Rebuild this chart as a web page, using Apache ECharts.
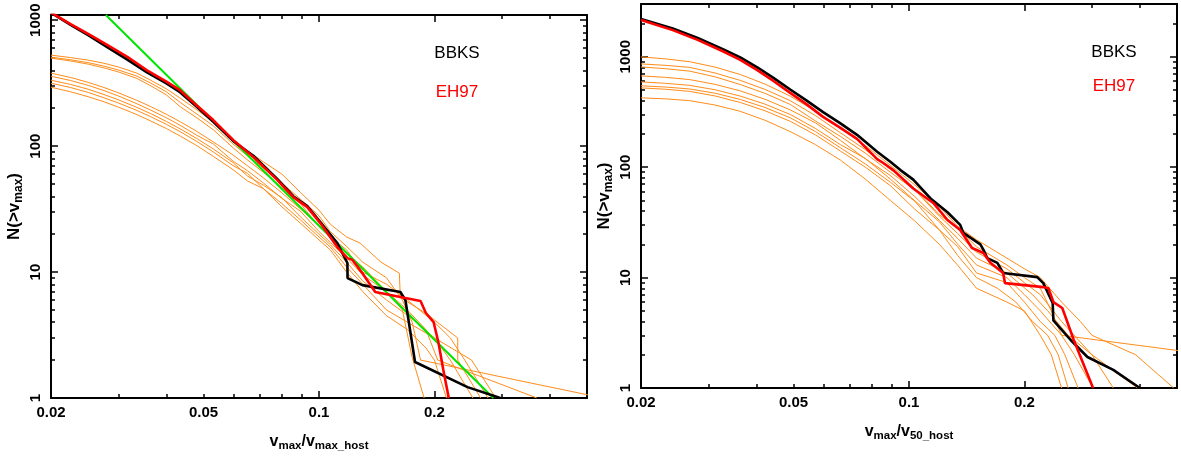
<!DOCTYPE html>
<html><head><meta charset="utf-8">
<script src="https://cdn.jsdelivr.net/npm/echarts@6/dist/echarts.min.js"></script>
<style>html,body{margin:0;padding:0;background:#fff;}#c{width:1181px;height:458px;}</style>
</head><body><div id="c"></div>
<script>
// ---------------- data ----------------
const xRange = [0.02, 0.5];
const yRangeLeft = [1, 1100];
const yRangeRight = [1, 3000];
const xLabelValues = [0.02, 0.05, 0.1, 0.2];
const xLabelTexts = ['0.02', '0.05', '0.1', '0.2'];
const xMajorTicks = [0.02, 0.1, 0.2];
const xMinorTicks = [0.03, 0.04, 0.05, 0.06, 0.07, 0.08, 0.09, 0.3, 0.4];
const yLabelValues = [1, 10, 100, 1000];
const yLabelTexts = ['1', '10', '100', '1000'];
const yMajorTicks = [1, 10, 100, 1000];
const yMinorTicks = [2,3,4,5,6,7,8,9,20,30,40,50,60,70,80,90,200,300,400,500,600,700,800,900,2000,3000];

// ----- left panel (v_max / v_max_host) -----
const leftBbksV = [0.02,0.0225,0.025,0.0283,0.0317,0.0356,0.04,0.0434,0.048,0.053,0.0597,0.0674,0.0778,0.0857,0.0932,0.1008,0.1116,0.1186,0.1187,0.1298,0.163,0.168,0.178,0.244,0.297];
const leftBbksN = [1150,920,760,600,485,385,315,268,205,156,110,84,55,40,33.5,25,17,11.8,8.96,7.88,6.94,6.0,1.93,1.22,1];
const leftEh97V = [0.02,0.0225,0.025,0.0283,0.0317,0.0356,0.04,0.0434,0.048,0.053,0.0597,0.0674,0.0778,0.0857,0.0932,0.1008,0.1116,0.1136,0.1186,0.1222,0.1298,0.1402,0.168,0.184,0.190,0.199,0.205,0.211,0.218];
const leftEh97N = [1150,930,780,625,510,400,325,278,210,161,112,82,54,39.4,32.8,24.5,15.8,14.9,12.9,12.5,9.8,6.94,6.22,5.89,4.73,4.01,2.73,1.67,1];
const leftFitV = [0.0278, 0.285];
const leftFitN = [1100, 1.0];
// orange curves: shared head abscissae, then individual tails
const leftOrangeHeadV = [0.02,0.0225,0.025,0.0275,0.03,0.0335,0.0363,0.04,0.0435,0.048,0.053,0.0597,0.065,0.0716,0.08,0.0894,0.1,0.107];
const leftOrangeHeadN = [
  [528,505,482,455,425,380,335,285,240,195,155,112,92,75,60,43,31,24],
  [509,485,460,432,402,360,318,270,222,180,145,104,84,67,51,38,28,21],
  [500,475,448,418,388,345,303,255,205,168,135,97,78,62,47,35,23,19],
  [380,351,321,292,265,231,207,179,156,131,108,85,70,56,42.6,31.8,23.3,19.1],
  [359,332,304,276,250,217,194,168,146,122,104,76,64,51,38.5,30.5,21,17.2],
  [334,309,283,257,233,203,182,157,137,115,95,74,58,49,39,27.5,20,16.5],
  [316,292,267,242,220,192,172,149,130,109,90,70,61,46,35,26,19,15.8],
  [294,270,247,225,204,178,159,138,120,101,83,65,53,46,33,24.5,18,15]
];
const leftOrangeTailV = [
  [0.118,0.128,0.145,0.162,0.163,0.19,0.23,0.2301,0.264],
  [0.118,0.13,0.15,0.165,0.175,0.184,0.55],
  [0.118,0.13,0.15,0.17,0.19,0.204,0.37],
  [0.118,0.13,0.15,0.17,0.2,0.22,0.24,0.276],
  [0.118,0.13,0.15,0.165,0.175,0.188],
  [0.118,0.13,0.15,0.18,0.2,0.22,0.252],
  [0.118,0.13,0.15,0.17,0.2,0.25,0.289],
  [0.118,0.13,0.15,0.17,0.19,0.2,0.215]
];
const leftOrangeTailN = [
  [19,17,12,9.8,6.3,4.7,3,2,1],
  [16,12,9,6,4,2,1],
  [14,11,7,5,3.5,2,1],
  [15,10,8,6,4,3,2,1],
  [13,9.5,7,5,2.1,1],
  [12,8.5,6,4,3,2,1],
  [11,8,5,4,3,2,1],
  [10,7,4.5,3.5,2.5,2,1]
];

// ----- right panel (v_max / v_50_host) -----
const rightBbksV = [0.02,0.0242,0.0281,0.0327,0.0363,0.0402,0.0444,0.049,0.0541,0.0597,0.0661,0.0732,0.0826,0.0894,0.095,0.1026,0.1138,0.126,0.136,0.1386,0.1535,0.1564,0.160,0.170,0.176,0.216,0.224,0.237,0.238,0.264,0.292,0.341,0.40];
const rightBbksN = [2200,1800,1480,1170,985,800,640,505,400,315,250,196,138,112,94,77,52,39,30,25.4,20,17.8,15,13.6,11,10.1,8.9,5.9,4.1,2.72,1.91,1.46,1];
const rightEh97V = [0.02,0.0242,0.0281,0.0327,0.0363,0.0402,0.0444,0.049,0.0541,0.0597,0.0661,0.0732,0.0826,0.0857,0.091,0.1026,0.1157,0.126,0.136,0.146,0.1564,0.163,0.176,0.178,0.224,0.231,0.238,0.251,0.256,0.269,0.302];
const rightEh97N = [2150,1740,1420,1120,935,755,600,470,370,285,228,180,118,109,94,64,47.4,33.2,27,18.5,16.7,13.6,11,8.9,8.2,8.0,6.0,5.3,4.4,2.72,1];
const rightOrangeHeadV = [0.02,0.0232,0.0268,0.0312,0.0363,0.0421,0.049,0.057,0.0662,0.0769,0.0894,0.1036,0.12,0.134,0.15];
const rightOrangeHeadN = [
  [996,955,900,805,690,565,440,322,225,157,104,69,44,29,22],
  [860,835,800,712,610,506,400,293,205,144,96,63.5,37,28,19],
  [808,778,740,657,560,466,370,262,190,134,90,62,36,25,17],
  [670,650,620,562,490,412,330,252,175,119,84,54,33,22.6,15],
  [591,574,550,502,440,372,300,224,160,120,78,49.5,32,20,13],
  [545,531,510,467,410,347,280,210,150,107,73,49,27,19,11],
  [522,507,485,441,385,324,260,196,140,100,68,41.5,27,15.8,10],
  [424,415,400,365,320,266,210,160,116,78,50,32.5,20,12.9,8]
];
const rightOrangeTailV = [
  [0.18,0.2,0.22,0.25,0.28,0.3,0.39,0.49],
  [0.18,0.2,0.22,0.235,0.25,0.61],
  [0.18,0.2,0.22,0.25,0.3,0.394],
  [0.18,0.21,0.23,0.26,0.3,0.341],
  [0.18,0.2,0.22,0.25,0.27,0.302],
  [0.18,0.2,0.22,0.24,0.255,0.276],
  [0.17,0.19,0.21,0.23,0.245,0.26],
  [0.18,0.2,0.22,0.235,0.25]
];
const rightOrangeTailN = [
  [15,12,10,6,4,3,2,1],
  [13,10,8,5,3,2],
  [12,9,7,4,2,1],
  [11,7,5,3,2,1],
  [10,7,5,3,2,1],
  [9,6,4,3,2,1],
  [8,6,4,3,2,1],
  [6,5,3,2,1]
];

// ---------------- chart ----------------
const L10 = Math.log10;
const FONT = '"Liberation Sans", Helvetica, Arial, sans-serif';
const ORANGE = '#ff8c1a';
function pts(vs, ns) { return vs.map((v, i) => [L10(v), L10(ns[i])]); }
function labelFor(val, values, texts) {
  for (let i = 0; i < values.length; i++) if (Math.abs(L10(values[i]) - val) < 1e-6) return texts[i];
  return '';
}
const tickLine = { color: '#000', width: 1.5 };
const axLine = { show: true, onZero: false, lineStyle: { color: '#000', width: 2 } };
function richStyle(big, small) {
  return { color: '#000', fontFamily: FONT, fontWeight: 'bold',
    rich: { a: { fontSize: big, fontWeight: 'bold', fontFamily: FONT, color: '#000', lineHeight: big + 2, verticalAlign: 'top' },
            b: { fontSize: small, fontWeight: 'bold', fontFamily: FONT, color: '#000', lineHeight: small + 1, verticalAlign: 'bottom' } } };
}

function buildX(g, name) {
  const base = { gridIndex: g, type: 'value', min: L10(xRange[0]), max: L10(xRange[1]),
    splitLine: { show: false }, axisPointer: { show: false } };
  const minorT = { show: true, inside: true, length: 4, customValues: xMinorTicks.map(L10), lineStyle: tickLine };
  const majorT = { show: true, inside: true, length: 7, customValues: xMajorTicks.map(L10), lineStyle: tickLine };
  return [
    Object.assign({}, base, { position: 'bottom', axisLine: axLine, axisTick: majorT,
      axisLabel: { show: true, customValues: xLabelValues.map(L10), formatter: v => labelFor(v, xLabelValues, xLabelTexts),
        fontSize: 15, fontWeight: 'bold', color: '#000', fontFamily: FONT, margin: 7 },
      name: name, nameLocation: 'middle', nameGap: 36, nameTextStyle: richStyle(16, 11.5) }),
    Object.assign({}, base, { position: 'bottom', axisLine: { show: false, onZero: false }, axisTick: minorT, axisLabel: { show: false } }),
    Object.assign({}, base, { position: 'top', axisLine: axLine, axisTick: majorT, axisLabel: { show: false } }),
    Object.assign({}, base, { position: 'top', axisLine: { show: false, onZero: false }, axisTick: minorT, axisLabel: { show: false } })
  ];
}
function buildY(g, yr) {
  const base = { gridIndex: g, type: 'value', min: L10(yr[0]), max: L10(yr[1]),
    splitLine: { show: false }, axisPointer: { show: false } };
  const minors = yMinorTicks.filter(t => t <= yr[1]).map(L10);
  const majors = yMajorTicks.filter(t => t <= yr[1]).map(L10);
  const minorT = { show: true, inside: true, length: 4, customValues: minors, lineStyle: tickLine };
  const majorT = { show: true, inside: true, length: 7, customValues: majors, lineStyle: tickLine };
  return [
    Object.assign({}, base, { position: 'left', axisLine: axLine, axisTick: majorT,
      axisLabel: { show: true, customValues: yLabelValues.filter(t => t <= yr[1]).map(L10), formatter: v => labelFor(v, yLabelValues, yLabelTexts),
        rotate: 90, fontSize: 15, fontWeight: 'bold', color: '#000', fontFamily: FONT, margin: 8 },
      name: '{a|N(>v}{b|max}{a|)}', nameLocation: 'middle', nameGap: 26, nameRotate: 90, nameTextStyle: richStyle(17, 12) }),
    Object.assign({}, base, { position: 'left', axisLine: { show: false, onZero: false }, axisTick: minorT, axisLabel: { show: false } }),
    Object.assign({}, base, { position: 'right', axisLine: axLine, axisTick: majorT, axisLabel: { show: false } }),
    Object.assign({}, base, { position: 'right', axisLine: { show: false, onZero: false }, axisTick: minorT, axisLabel: { show: false } })
  ];
}

function line(g, vs, ns, color, width, z) {
  return { type: 'line', xAxisIndex: g * 4, yAxisIndex: g * 4, data: pts(vs, ns),
    symbol: 'none', showSymbol: false, clip: true, animation: false, z: z,
    lineStyle: { color: color, width: width }, emphasis: { disabled: true } };
}

const series = [];
leftOrangeHeadN.forEach((hn, i) => series.push(line(0, leftOrangeHeadV.concat(leftOrangeTailV[i]), hn.concat(leftOrangeTailN[i]), ORANGE, 1, 2)));
series.push(line(0, leftFitV, leftFitN, '#00e600', 2, 3));
series.push(line(0, leftBbksV, leftBbksN, '#000000', 2.6, 4));
series.push(line(0, leftEh97V, leftEh97N, '#ff0000', 2.6, 5));
rightOrangeHeadN.forEach((hn, i) => series.push(line(1, rightOrangeHeadV.concat(rightOrangeTailV[i]), hn.concat(rightOrangeTailN[i]), ORANGE, 1, 2)));
series.push(line(1, rightBbksV, rightBbksN, '#000000', 2.6, 4));
series.push(line(1, rightEh97V, rightEh97N, '#ff0000', 2.6, 5));

const legendText = (x, y, txt, color) => ({ type: 'text', x: x, y: y,
  style: { text: txt, fill: color, font: '17px ' + FONT, textAlign: 'center', textVerticalAlign: 'middle' } });

const chart = echarts.init(document.getElementById('c'), null, { renderer: 'canvas' });
chart.setOption({
  animation: false,
  backgroundColor: '#ffffff',
  grid: [
    { left: 51, top: 15, width: 536, height: 383, containLabel: false },
    { left: 641, top: 4, width: 536, height: 384, containLabel: false }
  ],
  xAxis: buildX(0, '{a|v}{b|max}{a|/v}{b|max_host}').concat(buildX(1, '{a|v}{b|max}{a|/v}{b|50_host}')),
  yAxis: buildY(0, yRangeLeft).concat(buildY(1, yRangeRight)),
  series: series,
  graphic: [
    legendText(457, 53, 'BBKS', '#000000'),
    legendText(457, 92, 'EH97', '#ff0000'),
    legendText(1114, 52, 'BBKS', '#000000'),
    legendText(1114, 86, 'EH97', '#ff0000')
  ]
});
</script></body></html>
